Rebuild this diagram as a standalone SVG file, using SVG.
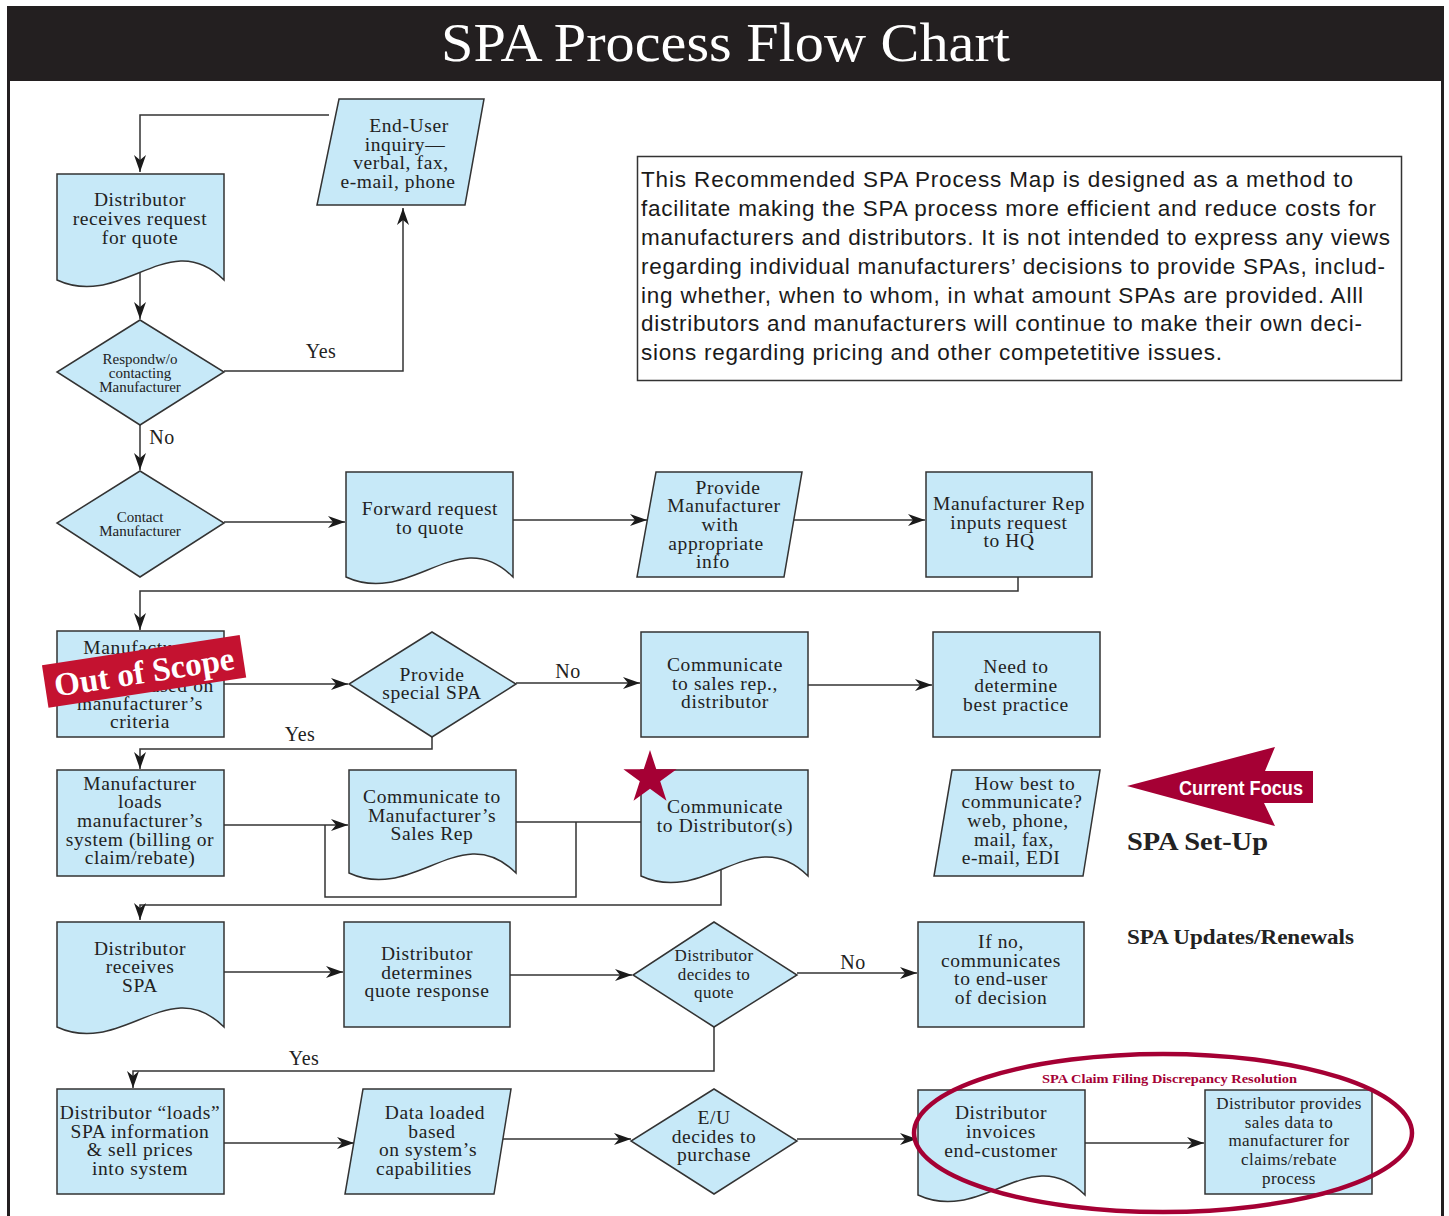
<svg xmlns="http://www.w3.org/2000/svg" width="1449" height="1216" viewBox="0 0 1449 1216">
<defs>
<marker id="ah" markerUnits="userSpaceOnUse" markerWidth="18" markerHeight="12" refX="17" refY="6" orient="auto">
<path d="M0,0 L17,6 L0,12 L5,6 Z" fill="#1a1a1a"/>
</marker>
<style>
.sh{fill:#c7e9f8;stroke:#333;stroke-width:1.5}
.t{font-family:"Liberation Serif",serif;font-size:19.5px;letter-spacing:0.6px;fill:#222;text-anchor:middle}
.s{font-family:"Liberation Serif",serif;font-size:15px;fill:#222;text-anchor:middle}
.m{font-family:"Liberation Serif",serif;font-size:17px;letter-spacing:0.4px;fill:#222;text-anchor:middle}
.c{fill:none;stroke:#333;stroke-width:1.5}
.a{marker-end:url(#ah)}
.lb{font-family:"Liberation Serif",serif;font-size:20px;letter-spacing:0.5px;fill:#222;text-anchor:middle}
.p{font-family:"Liberation Sans",sans-serif;font-size:22.5px;fill:#1a1a1a}
</style>
</defs>
<rect x="0" y="0" width="1449" height="1216" fill="#fff"/>
<rect x="7" y="6" width="1437" height="75" fill="#231f20"/>
<line x1="8.5" y1="6" x2="8.5" y2="1216" stroke="#231f20" stroke-width="3"/>
<line x1="1442.5" y1="6" x2="1442.5" y2="1216" stroke="#231f20" stroke-width="3"/>
<text x="441" y="61" font-family="Liberation Serif, serif" font-size="55" fill="#fff" textLength="569" lengthAdjust="spacingAndGlyphs">SPA Process Flow Chart</text>

<g id="connectors">
<path class="c a" d="M329,115 H140 V172"/>
<path class="c a" d="M140,268 V319"/>
<path class="c a" d="M224,371 H403 V208"/>
<path class="c a" d="M140,425 V470"/>
<path class="c a" d="M224,522 H345"/>
<path class="c a" d="M513,520 H647"/>
<path class="c a" d="M793,520 H925"/>
<path class="c a" d="M1018,577 V591 H140 V630"/>
<path class="c a" d="M224,684 H348"/>
<path class="c a" d="M516,683 H640"/>
<path class="c a" d="M432,737 V749 H140 V769"/>
<path class="c a" d="M808,685 H932"/>
<path class="c a" d="M224,825 H348"/>
<path class="c" d="M516,822 H641"/>
<path class="c" d="M576,822 V897 H325 V825"/>
<path class="c a" d="M721,862 V905 H140 V920"/>
<path class="c a" d="M224,972 H343"/>
<path class="c a" d="M510,975 H632"/>
<path class="c a" d="M797,973 H917"/>
<path class="c a" d="M714,1027 V1071 H133 V1088"/>
<path class="c a" d="M224,1143 H354"/>
<path class="c a" d="M502,1139 H631"/>
<path class="c a" d="M797,1139 H917"/>
<path class="c a" d="M1085,1143 H1204"/>
<text class="lb" x="321" y="358">Yes</text>
<text class="lb" x="162" y="444">No</text>
<text class="lb" x="568" y="678">No</text>
<text class="lb" x="300" y="741">Yes</text>
<text class="lb" x="853" y="969">No</text>
<text class="lb" x="304" y="1065">Yes</text>
</g>

<g id="n-enduser">
<polygon class="sh" points="339,99 484,99 465,205 317,205"/>
<text class="t" x="409" y="132">End-User</text>
<text class="t" x="405" y="151">inquiry—</text>
<text class="t" x="401" y="169">verbal, fax,</text>
<text class="t" x="398" y="188">e-mail, phone</text>
</g>

<g id="n-dist-receives-request">
<path class="sh" d="M57,174 H224 V280 C169,225 122,310 57,280 Z"/>
<text class="t" x="140" y="206">Distributor</text>
<text class="t" x="140" y="225">receives request</text>
<text class="t" x="140" y="244">for quote</text>
</g>

<g id="n-respond">
<polygon class="sh" points="140,320 224,372 140,425 57,372"/>
<text class="s" x="140" y="364">Respondw/o</text>
<text class="s" x="140" y="378">contacting</text>
<text class="s" x="140" y="392">Manufacturer</text>
</g>

<g id="n-contact">
<polygon class="sh" points="140,471 224,523 140,577 57,523"/>
<text class="s" x="140" y="522">Contact</text>
<text class="s" x="140" y="536">Manufacturer</text>
</g>

<g id="n-forward">
<path class="sh" d="M346,472 H513 V577 C458,522 411,607 346,577 Z"/>
<text class="t" x="430" y="515">Forward request</text>
<text class="t" x="430" y="534">to quote</text>
</g>

<g id="n-provide-info">
<polygon class="sh" points="656,472 802,472 784,577 637,577"/>
<text class="t" x="728" y="494">Provide</text>
<text class="t" x="724" y="512">Manufacturer</text>
<text class="t" x="720" y="531">with</text>
<text class="t" x="716" y="550">appropriate</text>
<text class="t" x="713" y="568">info</text>
</g>

<g id="n-rep-hq">
<rect class="sh" x="926" y="472" width="166" height="105"/>
<text class="t" x="1009" y="510">Manufacturer Rep</text>
<text class="t" x="1009" y="529">inputs request</text>
<text class="t" x="1009" y="547">to HQ</text>
</g>

<g id="n-mfr-criteria">
<rect class="sh" x="57" y="631" width="167" height="106"/>
<text class="t" x="140" y="654">Manufacturer</text>
<text class="t" x="140" y="673">approves or</text>
<text class="t" x="140" y="692">declines based on</text>
<text class="t" x="140" y="710">manufacturer’s</text>
<text class="t" x="140" y="728">criteria</text>
</g>

<g id="n-special-spa">
<polygon class="sh" points="432,632 516,684 432,737 349,684"/>
<text class="t" x="432" y="681">Provide</text>
<text class="t" x="432" y="699">special SPA</text>
</g>

<g id="n-comm-sales">
<rect class="sh" x="641" y="632" width="167" height="105"/>
<text class="t" x="725" y="671">Communicate</text>
<text class="t" x="725" y="690">to sales rep.,</text>
<text class="t" x="725" y="708">distributor</text>
</g>

<g id="n-best-practice">
<rect class="sh" x="933" y="632" width="167" height="105"/>
<text class="t" x="1016" y="673">Need to</text>
<text class="t" x="1016" y="692">determine</text>
<text class="t" x="1016" y="711">best practice</text>
</g>

<g id="n-mfr-loads">
<rect class="sh" x="57" y="770" width="167" height="106"/>
<text class="t" x="140" y="790">Manufacturer</text>
<text class="t" x="140" y="808">loads</text>
<text class="t" x="140" y="827">manufacturer’s</text>
<text class="t" x="140" y="846">system (billing or</text>
<text class="t" x="140" y="864">claim/rebate)</text>
</g>

<g id="n-comm-mfr-rep">
<path class="sh" d="M349,770 H516 V873 C461,818 414,903 349,873 Z"/>
<text class="t" x="432" y="803">Communicate to</text>
<text class="t" x="432" y="822">Manufacturer’s</text>
<text class="t" x="432" y="840">Sales Rep</text>
</g>

<g id="n-comm-dist">
<path class="sh" d="M641,770 H808 V876 C753,821 706,906 641,876 Z"/>
<text class="t" x="725" y="813">Communicate</text>
<text class="t" x="725" y="832">to Distributor(s)</text>
<polygon fill="#a50034" points="650,750 656.3,769.3 676.6,769.3 660.2,781.3 666.5,800.7 650,788.7 633.5,800.7 639.8,781.3 623.4,769.3 643.7,769.3"/>
</g>

<g id="n-how-best">
<polygon class="sh" points="952,770 1100,770 1083,876 934,876"/>
<text class="t" x="1025" y="790">How best to</text>
<text class="t" x="1022" y="808">communicate?</text>
<text class="t" x="1018" y="827">web, phone,</text>
<text class="t" x="1014" y="846">mail, fax,</text>
<text class="t" x="1011" y="864">e-mail, EDI</text>
</g>

<g id="current-focus">
<polygon fill="#a50034" points="1127,786 1275,747 1265,771 1313,771 1313,803 1264,803 1275,826"/>
<text x="1179" y="795" font-family="Liberation Sans, sans-serif" font-weight="bold" font-size="21" fill="#fff" textLength="124" lengthAdjust="spacingAndGlyphs">Current Focus</text>
</g>
<text x="1127" y="850" font-family="Liberation Serif, serif" font-weight="bold" font-size="26" fill="#222" textLength="141" lengthAdjust="spacingAndGlyphs">SPA Set-Up</text>
<text x="1127" y="944" font-family="Liberation Serif, serif" font-weight="bold" font-size="20" fill="#222" textLength="227" lengthAdjust="spacingAndGlyphs">SPA Updates/Renewals</text>

<g id="n-dist-receives-spa">
<path class="sh" d="M57,922 H224 V1027 C169,972 122,1057 57,1027 Z"/>
<text class="t" x="140" y="955">Distributor</text>
<text class="t" x="140" y="973">receives</text>
<text class="t" x="140" y="992">SPA</text>
</g>

<g id="n-quote-response">
<rect class="sh" x="344" y="922" width="166" height="105"/>
<text class="t" x="427" y="960">Distributor</text>
<text class="t" x="427" y="979">determines</text>
<text class="t" x="427" y="997">quote response</text>
</g>

<g id="n-decides-quote">
<polygon class="sh" points="714,922 797,975 714,1027 633,975"/>
<text class="m" x="714" y="961">Distributor</text>
<text class="m" x="714" y="980">decides to</text>
<text class="m" x="714" y="998">quote</text>
</g>

<g id="n-if-no">
<rect class="sh" x="918" y="922" width="166" height="105"/>
<text class="t" x="1001" y="948">If no,</text>
<text class="t" x="1001" y="967">communicates</text>
<text class="t" x="1001" y="985">to end-user</text>
<text class="t" x="1001" y="1004">of decision</text>
</g>

<g id="n-dist-loads">
<rect class="sh" x="57" y="1089" width="167" height="105"/>
<text class="t" x="140" y="1119">Distributor “loads”</text>
<text class="t" x="140" y="1138">SPA information</text>
<text class="t" x="140" y="1156">&amp; sell prices</text>
<text class="t" x="140" y="1175">into system</text>
</g>

<g id="n-data-loaded">
<polygon class="sh" points="363,1089 511,1089 494,1194 345,1194"/>
<text class="t" x="435" y="1119">Data loaded</text>
<text class="t" x="432" y="1138">based</text>
<text class="t" x="428" y="1156">on system’s</text>
<text class="t" x="424" y="1175">capabilities</text>
</g>

<g id="n-eu-purchase">
<polygon class="sh" points="714,1089 797,1141 714,1194 631,1141"/>
<text class="t" x="714" y="1124">E/U</text>
<text class="t" x="714" y="1143">decides to</text>
<text class="t" x="714" y="1161">purchase</text>
</g>

<g id="n-invoices">
<path class="sh" d="M918,1090 H1085 V1195 C1030,1140 983,1225 918,1195 Z"/>
<text class="t" x="1001" y="1119">Distributor</text>
<text class="t" x="1001" y="1138">invoices</text>
<text class="t" x="1001" y="1157">end-customer</text>
</g>

<g id="n-sales-data">
<rect class="sh" x="1205" y="1090" width="167" height="104"/>
<text class="m" x="1289" y="1109">Distributor provides</text>
<text class="m" x="1289" y="1128">sales data to</text>
<text class="m" x="1289" y="1146">manufacturer for</text>
<text class="m" x="1289" y="1165">claims/rebate</text>
<text class="m" x="1289" y="1184">process</text>
</g>

<g id="claim-resolution">
<ellipse cx="1163" cy="1133" rx="249" ry="79" fill="none" stroke="#a50034" stroke-width="4.5"/>
<text x="1042" y="1083" font-family="Liberation Serif, serif" font-weight="bold" font-size="13.5" fill="#a50034" textLength="255" lengthAdjust="spacingAndGlyphs">SPA Claim Filing Discrepancy Resolution</text>
</g>

<g id="out-of-scope" transform="rotate(-8.7 144 671)">
<rect x="44" y="650" width="200" height="43" fill="#c41230"/>
<text x="144" y="683" font-family="Liberation Serif, serif" font-weight="bold" font-size="33" fill="#fff" text-anchor="middle">Out of Scope</text>
</g>

<g id="note">
<rect x="637.5" y="156.5" width="764" height="224" fill="#fff" stroke="#333" stroke-width="1.5"/>
<text class="p" x="641" y="187" textLength="712">This Recommended SPA Process Map is designed as a method to</text>
<text class="p" x="641" y="216" textLength="735">facilitate making the SPA process more efficient and reduce costs for</text>
<text class="p" x="641" y="245" textLength="749">manufacturers and distributors. It is not intended to express any views</text>
<text class="p" x="641" y="274" textLength="744">regarding individual manufacturers’ decisions to provide SPAs, includ-</text>
<text class="p" x="641" y="303" textLength="722">ing whether, when to whom, in what amount SPAs are provided. Alll</text>
<text class="p" x="641" y="331" textLength="721">distributors and manufacturers will continue to make their own deci-</text>
<text class="p" x="641" y="360" textLength="581">sions regarding pricing and other competetitive issues.</text>
</g>
</svg>
